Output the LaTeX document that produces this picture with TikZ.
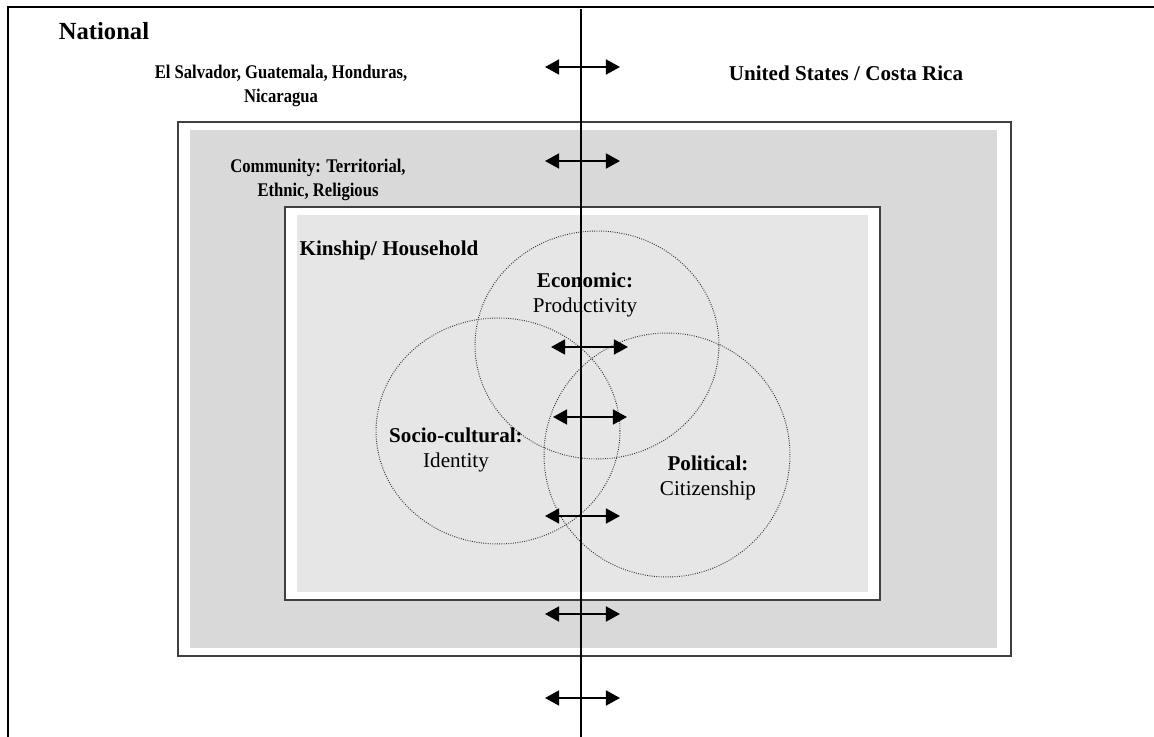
\documentclass[tikz,border=0pt]{standalone}
\usepackage{fontspec}
\setmainfont{Liberation Serif}
\newfontfamily\narrowserif[FakeStretch=0.86]{Liberation Serif}
\usepackage{xcolor}
\usetikzlibrary{arrows.meta}
\definecolor{outergray}{HTML}{D9D9D9}
\definecolor{innergray}{HTML}{E6E6E6}
\definecolor{framegray}{HTML}{404040}

\begin{document}
\begin{tikzpicture}[x=0.02cm, y=-0.02cm,
	lbl/.style={align=center, inner sep=0pt, font=\fontsize{12}{14}\selectfont},
	ring/.style={draw=black!80, line width=0.55pt, dash pattern=on 0.5pt off 0.8pt},
	twoway/.style={{Triangle[length=8pt,width=8.5pt]}-{Triangle[length=8pt,width=8.5pt]}, line width=1.1pt}]
	\useasboundingbox (0,0) rectangle (1154,737);
	
	% frame of the national level
	\draw[line width=1.1pt] (1154,7) -- (8,7) -- (8,737);
	
	% community box
	\draw[framegray, line width=1.2pt] (178,122) rectangle (1011,656);
	\fill[outergray] (190,130) rectangle (997,648);
	
	% kinship box
	\draw[framegray, fill=white, line width=1.2pt] (285,207) rectangle (880,600);
	\fill[innergray] (297,215) rectangle (868,592);
	
	% the three spheres
	\draw[ring] (597,345) ellipse [x radius=2.44cm, y radius=2.28cm];
	\draw[ring] (498,431) ellipse [x radius=2.44cm, y radius=2.26cm];
	\draw[ring] (667,455) ellipse [x radius=2.46cm, y radius=2.44cm];
	
	\node[lbl, font=\fontsize{14}{16}\selectfont\bfseries] (national) at (104,31) {National};
	\node[lbl, font=\fontsize{11}{14}\narrowserif\bfseries] (sending) at (281,86) {El Salvador, Guatemala, Honduras,\\ Nicaragua};
	\node[lbl, font=\fontsize{12}{14}\selectfont\bfseries] (receiving) at (846,73) {United States / Costa Rica};
	\node[lbl, font=\fontsize{11}{14}\narrowserif\bfseries] (community) at (318,180) {Community: Territorial,\\ Ethnic, Religious};
	\node[lbl, font=\fontsize{12}{14}\selectfont\bfseries] (kinship) at (389,250) {Kinship/ Household};
	\node[lbl] (economic) at (585,295) {\textbf{Economic:}\\ Productivity};
	\node[lbl] (sociocult) at (456,450) {\textbf{Socio-cultural:}\\ Identity};
	\node[lbl] (political) at (708,478) {\textbf{Political:}\\ Citizenship};
	
	% border between the two sides
	\draw[line width=0.9pt] (581,9) -- (581,737);
	
	\foreach \y/\xl/\xr [count=\i] in {
		67/545/620,
		161/545/620,
		347/551/628,
		417/553/627,
		516/545/620,
		614/545/620,
		698/545/620
	}
	{
		\coordinate (left\i) at (\xl,\y);
		\coordinate (right\i) at (\xr,\y);
		\draw[twoway] (left\i) -- (right\i);
	}
\end{tikzpicture}
\end{document}
